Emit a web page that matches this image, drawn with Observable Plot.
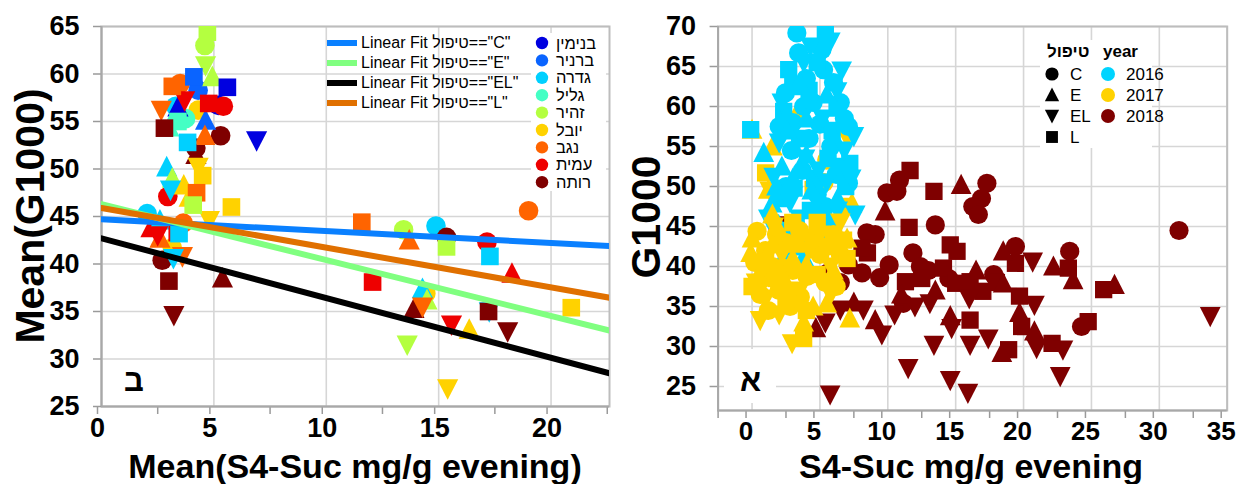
<!DOCTYPE html>
<html><head><meta charset="utf-8">
<script src="https://cdn.jsdelivr.net/npm/d3@7"></script>
<script src="https://cdn.jsdelivr.net/npm/@observablehq/plot@0.6"></script>
<style>
body{margin:0;background:#fff;font-family:"Liberation Sans",Arial,sans-serif;}
#wrap{position:relative;width:1236px;height:484px;overflow:hidden;background:#fff;}
.panel{position:absolute;top:0;}
.abs{position:absolute;white-space:nowrap;color:#000;}
.atitle{font-weight:bold;font-size:34px;line-height:34px;}
.vtitle{font-weight:bold;font-size:41px;line-height:41px;}
.vt{transform:translate(-50%,-50%) rotate(-90deg);}
.ht{transform:translateX(-50%);}
.plab{font-weight:bold;font-size:31px;line-height:31px;}
.lg{font-size:16px;line-height:16px;}
.lg3{font-size:16.5px;line-height:16.5px;}
.lg2{font-size:17px;line-height:17px;}
</style></head>
<body><div id="wrap"></div>
<script>
// ---------- categories ----------
const locations = ["בנימין","ברניר","גדרה","גליל","זהיר","יובל","נגב","עמית","רותה"];
const locColors = ["#0000e0","#0a64ff","#00d0ff","#44ffc4","#b4ff40","#ffd200","#ff6400","#ee0000","#7f0000"];
const [BN, BR, GD, GL, ZH, YV, NG, AM, RT] = locations;
const treatments = ["C","E","EL","L"];
const fitColors = ["#0a80ff","#80ff80","#000000","#e07000"];
const years = ["2016","2017","2018"];
const yearColors = ["#00d4ff","#ffd200","#7f0000"];

// ---------- left panel (means): [location, x, y] ----------
const meanC = [[ZH,4.6,63.0],[NG,3.5,59.0],[BR,4.3,58.3],[GD,3.3,56.6],[BN,5.2,56.7],[AM,5.42,56.6],[YV,4.3,56.2],[GL,3.74,55.3],[RT,5.3,53.5],[RT,4.2,52.2],[AM,2.95,47.1],[GD,2.03,45.3],[NG,3.64,44.3],[YV,3.15,41.7],[RT,2.7,40.4],[ZH,13.44,43.6],[GD,14.88,44.0],[RT,15.35,42.8],[AM,17.15,42.3],[NG,19.0,45.6],[YV,14.43,36.9]];
const meanE = [[ZH,4.93,59.7],[BN,3.4,56.5],[BR,4.63,55.1],[GL,3.0,54.4],[NG,4.6,53.5],[RT,4.2,51.5],[GD,2.9,50.2],[ZH,3.15,49.0],[YV,3.66,48.3],[YV,3.9,47.0],[AM,2.2,43.8],[GD,2.6,44.6],[NG,2.6,42.7],[RT,5.38,38.5],[NG,13.69,42.5],[GD,14.28,37.4],[ZH,14.48,36.2],[RT,13.9,35.3],[AM,18.26,39.0],[YV,16.36,33.1]];
const meanEL = [[ZH,4.63,60.9],[AM,3.7,57.2],[NG,2.66,56.2],[BN,6.9,53.0],[YV,4.3,50.2],[GD,3.07,47.8],[YV,4.8,44.6],[AM,2.5,43.0],[NG,3.6,40.8],[GD,3.2,40.6],[RT,3.22,34.6],[NG,14.28,35.5],[GD,17.25,35.0],[AM,15.57,33.6],[RT,18.07,32.9],[ZH,13.6,31.5],[YV,15.4,26.9]];
const meanL = [[ZH,4.71,64.4],[BR,4.11,59.7],[NG,3.15,58.7],[BN,5.6,58.6],[AM,4.77,56.9],[GL,3.4,55.0],[RT,2.8,54.3],[GD,3.83,52.8],[YV,4.5,49.3],[NG,4.23,47.5],[ZH,4.08,46.2],[YV,5.78,46.0],[AM,3.37,43.3],[GD,3.45,43.2],[RT,3.0,38.2],[NG,11.58,44.4],[ZH,15.35,41.8],[GD,17.28,40.8],[AM,12.06,38.1],[RT,17.22,35.0],[YV,20.9,35.4]];
// linear fits per treatment: y at x = fitX[0] and x = fitX[1]
const fitX = [0, 22.6];
const fitY0 = [44.7, 46.3, 42.7, 45.9];
const fitY1 = [41.9, 33.0, 28.5, 36.45];

// ---------- right panel (all samples): [treatment, x, y] ----------
const y2016 = [
 ["C",3.3,69.2],["C",3.43,66.7],["C",5.15,67.1],["C",5.27,64.6],["C",2.46,61.7],["C",7.1,57.5],["C",7.1,50.4],["C",5.4,47.5],["C",4.0,63.5],["C",3.0,58.0],["C",4.5,60.5],["C",5.8,55.0],["C",3.7,52.0],["C",6.2,51.5],["C",4.8,49.0],["C",2.9,54.5],["C",5.0,57.8],["C",6.5,60.5],
 ["C",2.0,57.5],["C",3.8,60.0],["C",6.0,63.0],["C",2.5,50.0],["C",4.2,56.0],["C",6.8,58.5],["C",3.2,45.5],["C",5.6,44.5],
 ["L",5.4,69.0],["L",2.7,64.6],["L",2.33,59.4],["L",6.26,59.8],["L",-0.1,57.1],["L",7.2,52.9],["L",6.9,50.0],["L",4.2,62.0],["L",3.5,56.0],["L",5.6,53.5],["L",4.3,47.0],["L",3.1,49.8],["L",6.0,45.5],["L",2.5,44.5],
 ["L",3.0,62.5],["L",4.8,65.5],["L",5.9,57.0],["L",2.0,48.5],["L",4.6,51.0],["L",6.5,52.5],["L",3.6,43.5],
 ["E",0.86,54.2],["E",1.48,47.9],["E",1.96,45.2],["E",2.33,41.2],["E",3.8,41.2],["E",3.1,42.5],["E",4.0,58.5],["E",5.5,61.5],["E",3.0,51.0],["E",6.3,48.5],["E",2.2,52.5],["E",4.6,44.5],["E",4.0,54.0],
 ["E",3.5,63.0],["E",2.6,57.0],["E",6.1,56.0],["E",4.4,49.5],["E",5.3,45.8],["E",1.8,50.0],
 ["EL",5.76,68.1],["EL",6.26,61.9],["EL",7.5,56.3],["EL",1.6,51.2],["EL",7.6,46.5],["EL",6.3,47.0],["EL",3.8,65.5],["EL",2.8,48.0],["EL",4.9,52.0],["EL",5.2,58.5],["EL",3.5,46.0],["EL",6.8,54.5],["EL",2.0,55.5],["EL",4.4,42.8],
 ["EL",4.3,67.5],["EL",2.2,60.5],["EL",6.6,64.5],["EL",3.9,53.5],["EL",5.5,50.5],["EL",1.2,46.0],["EL",7.3,51.0]];
const y2017 = [
 ["E",0.0,57.1],["E",1.5,55.0],["L",1.0,51.7],["E",1.2,49.6],["E",7.36,47.9],["EL",7.0,56.1],["C",5.5,53.3],["L",4.5,49.6],["E",3.4,59.5],["C",5.3,50.5],["E",1.5,46.5],["L",6.8,47.5],["EL",1.3,49.5],
 ["C",0.37,44.4],["C",0.6,36.5],["C",3.56,36.2],["C",4.05,38.75],["C",1.0,42.0],["C",1.5,40.0],["C",2.5,43.0],["C",0.8,38.5],["C",2.0,37.0],["C",3.0,39.5],["C",5.0,41.5],["C",4.5,43.5],["C",6.0,44.0],["C",1.2,34.5],["C",2.8,35.0],["C",6.5,41.5],["C",0.2,40.5],["C",3.5,44.5],["C",5.4,38.0],
 ["C",1.8,44.0],["C",2.3,39.8],["C",6.2,37.5],
 ["E",-0.1,41.7],["E",4.5,35.0],["E",5.5,35.4],["E",7.2,33.5],["E",0.5,39.0],["E",2.0,44.5],["E",3.0,41.0],["E",6.0,39.5],["E",1.5,42.8],["E",4.0,40.2],["E",2.5,38.0],["E",7.0,43.5],["E",0.0,43.5],["E",3.8,33.0],
 ["EL",0.6,33.3],["EL",2.95,30.4],["EL",1.0,36.0],["EL",2.2,41.5],["EL",3.5,37.0],["EL",5.0,44.0],["EL",6.5,45.5],["EL",0.3,38.0],["EL",4.2,42.0],["EL",2.0,34.0],["EL",1.6,45.0],["EL",5.8,36.5],["EL",5.8,40.0],
 ["L",3.8,31.0],["L",6.74,43.3],["L",1.0,40.5],["L",2.5,36.0],["L",3.2,42.8],["L",4.8,39.0],["L",5.6,42.5],["L",0.0,37.5],["L",1.8,38.5],["L",7.0,41.0],["L",4.0,34.5],["L",3.0,45.5],["L",4.8,45.5]];
const y2018 = [
 ["C",10.86,50.8],["C",9.93,49.2],["C",10.67,49.4],["C",17.3,50.4],["C",16.9,48.5],["C",16.26,47.5],["C",16.67,46.5],["C",13.5,45.2],["C",9.07,44.0],["C",11.85,41.7],["C",19.4,42.5],["C",23.4,41.9],["C",31.45,44.5],["C",10.1,40.2],["C",8.1,39.2],["C",9.4,38.6],["C",12.4,40.0],["C",11.15,35.4],["C",24.27,32.5],["C",5.6,39.2],["C",7.1,40.2],["C",8.46,44.2],["C",13.0,39.5],["C",14.5,38.5],["C",17.8,39.0],["C",6.5,38.0],
 ["L",11.64,52.0],["L",13.4,49.4],["L",11.57,44.9],["L",8.5,41.7],["L",14.6,42.7],["L",15.1,41.9],["L",19.4,40.4],["L",23.3,39.8],["L",25.9,37.1],["L",11.3,38.1],["L",14.1,39.8],["L",15.0,37.9],["L",16.06,38.1],["L",17.0,36.9],["L",19.7,36.3],["L",16.06,33.3],["L",19.86,32.5],["L",22.1,30.4],["L",18.9,29.6],["L",24.76,33.1],["L",1.85,45.2],["L",8.1,42.3],["L",12.5,38.5],["L",18.0,38.0],
 ["E",9.8,46.9],["E",15.4,50.2],["E",18.5,41.9],["E",22.2,40.0],["E",23.65,38.3],["E",26.7,37.7],["E",18.5,37.9],["E",9.07,33.3],["E",14.6,33.8],["E",19.7,34.2],["E",20.8,31.9],["E",18.4,29.2],["E",4.7,32.3],["E",13.5,37.0],["E",16.5,39.5],["E",11.0,36.5],["E",7.5,35.5],
 ["EL",20.67,40.6],["EL",33.75,33.8],["EL",20.8,35.2],["EL",13.1,35.4],["EL",9.56,31.5],["EL",14.7,32.3],["EL",13.4,30.2],["EL",16.06,30.2],["EL",17.4,31.0],["EL",20.96,29.8],["EL",22.9,29.6],["EL",22.7,26.3],["EL",11.5,27.3],["EL",14.6,25.8],["EL",15.9,24.2],["EL",5.75,24.0],["EL",5.4,33.0],["EL",6.5,34.6],["EL",8.2,34.6],["EL",10.5,34.0],["EL",12.0,35.0],["EL",16.0,36.0]];

// tick values
const leftXTicks = [0,5,10,15,20];
const leftXMinor = [2.5,7.5,12.5,17.5,22.5];
const leftYTicks = [25,30,35,40,45,50,55,60,65];
const rightXTicks = [0,5,10,15,20,25,30,35];
const rightXMinor = [-2.5,2.5,7.5,12.5,17.5,22.5,27.5,32.5];
const rightYTicks = [25,30,35,40,45,50,55,60,65,70];

// ---------- symbols ----------
function makeSym(kind){
  return {draw(ctx, size){
    const r = Math.sqrt(size/Math.PI);
    if(kind==="C"){ctx.moveTo(r,0);ctx.arc(0,0,r,0,2*Math.PI);}
    else if(kind==="L"){const h=r*0.9;ctx.moveTo(-h,-h);ctx.lineTo(h,-h);ctx.lineTo(h,h);ctx.lineTo(-h,h);ctx.closePath();}
    else if(kind==="E"){const w=r*1.08;ctx.moveTo(0,-r*1.15);ctx.lineTo(w,r*0.95);ctx.lineTo(-w,r*0.95);ctx.closePath();}
    else {const w=r*1.08;ctx.moveTo(0,r*1.15);ctx.lineTo(w,-r*0.95);ctx.lineTo(-w,-r*0.95);ctx.closePath();}
  }};
}
const symbols = treatments.map(makeSym);

const gridStyle = {stroke:"#d6d6d6", strokeOpacity:1, strokeWidth:1.6};
const axisFont = {fontSize:27, fontWeight:"bold", fill:"#000", stroke:"#9a9a9a", strokeWidth:1.5};
const font = "'Liberation Sans', Arial, sans-serif";
const wrap = document.getElementById("wrap");

// ---------- LEFT PLOT ----------
const leftRows = [
  ...meanC.map(d=>({loc:d[0],x:d[1],y:d[2],t:"C"})),
  ...meanE.map(d=>({loc:d[0],x:d[1],y:d[2],t:"E"})),
  ...meanEL.map(d=>({loc:d[0],x:d[1],y:d[2],t:"EL"})),
  ...meanL.map(d=>({loc:d[0],x:d[1],y:d[2],t:"L"}))
];
const fitRows = treatments.map((t,i)=>[{x:fitX[0],y:fitY0[i]},{x:fitX[1],y:fitY1[i]}]);

const left = Plot.plot({
  width:620, height:484,
  marginLeft:101, marginRight:11, marginTop:26, marginBottom:78,
  style:{fontFamily:font, overflow:"visible", background:"transparent"},
  x:{domain:[0,22.6]},
  y:{domain:[25,65]},
  color:{domain:locations, range:locColors},
  symbol:{domain:treatments, range:symbols},
  marks:[
    Plot.gridX(leftXTicks, gridStyle),
    Plot.gridY(leftYTicks, gridStyle),
    Plot.frame({stroke:"#bdbdbd", strokeWidth:2}),
    Plot.axisX(leftXTicks, {...axisFont, tickSize:8, tickPadding:3, dx:-4, label:null}),
    Plot.axisX(leftXMinor, {stroke:"#9a9a9a", strokeWidth:1.5, tickSize:8, text:null, label:null}),
    Plot.axisY(leftYTicks, {...axisFont, tickSize:8, tickPadding:14, label:null}),
    Plot.ruleX([0], {stroke:"#a8a8a8", strokeWidth:2}),
    Plot.ruleY([25], {stroke:"#a8a8a8", strokeWidth:2}),
    Plot.dot(leftRows, {x:"x", y:"y", fill:"loc", symbol:"t", r:9.8, clip:true}),
    ...fitRows.map((rows,i)=>Plot.line(rows, {x:"x", y:"y", stroke:fitColors[i], strokeWidth:6, clip:true}))
  ]
});
left.classList.add("panel"); left.style.left="0px";
wrap.appendChild(left);

// ---------- RIGHT PLOT ----------
const toRows = (arr, yr) => arr.map(d=>({t:d[0], x:d[1], y:d[2], yr}));
const r2016 = toRows(y2016,"2016"), r2017 = toRows(y2017,"2017"), r2018 = toRows(y2018,"2018");
const rightRows = [...r2018, ...r2017.filter(d=>d.y>=47), ...r2016, ...r2017.filter(d=>d.y<47)];

const right = Plot.plot({
  width:616, height:484,
  marginLeft:97.6, marginRight:9.3, marginTop:26, marginBottom:74,
  style:{fontFamily:font, overflow:"visible", background:"transparent"},
  x:{domain:[-2.5,35]},
  y:{domain:[22,70]},
  color:{domain:years, range:yearColors},
  symbol:{domain:treatments, range:symbols},
  marks:[
    Plot.gridX(rightXTicks, gridStyle),
    Plot.gridY(rightYTicks, gridStyle),
    Plot.frame({stroke:"#bdbdbd", strokeWidth:2}),
    Plot.axisX(rightXTicks, {...axisFont, fontSize:26, tickSize:8, tickPadding:3, dx:-6, label:null}),
    Plot.axisX(rightXMinor, {stroke:"#9a9a9a", strokeWidth:1.5, tickSize:8, text:null, label:null}),
    Plot.axisY(rightYTicks, {...axisFont, tickSize:8, tickPadding:14, label:null}),
    Plot.ruleX([-2.5], {stroke:"#a8a8a8", strokeWidth:2}),
    Plot.ruleY([22], {stroke:"#a8a8a8", strokeWidth:2}),
    Plot.dot(rightRows, {x:"x", y:"y", fill:"yr", symbol:"t", r:9.6, clip:true})
  ]
});
right.classList.add("panel"); right.style.left="620px";
wrap.appendChild(right);

// ---------- HTML overlays: titles, labels, legends ----------
function addDiv(cls, text, css){
  const d=document.createElement("div"); d.className="abs "+cls; d.textContent=text;
  Object.assign(d.style, css); wrap.appendChild(d); return d;
}
addDiv("vtitle vt","Mean(G1000)",{left:"30px",top:"216px"});
addDiv("atitle ht","Mean(S4-Suc mg/g evening)",{left:"355px",top:"449px"});
addDiv("vtitle vt","G1000",{left:"646px",top:"217px"});
addDiv("atitle ht","S4-Suc mg/g evening",{left:"971px",top:"449px"});
addDiv("plab","ב",{left:"124px",top:"365px"});
addDiv("", "", {left:"724px",top:"349px",width:"52px",height:"54px",background:"#fff"});
addDiv("plab","א",{left:"740px",top:"365px"});

// legends
const NS="http://www.w3.org/2000/svg";
const lsvg=document.createElementNS(NS,"svg");
lsvg.setAttribute("width","1236"); lsvg.setAttribute("height","484");
lsvg.style.position="absolute"; lsvg.style.left="0"; lsvg.style.top="0"; lsvg.style.pointerEvents="none";
wrap.appendChild(lsvg);
function svgEl(tag, attrs){const e=document.createElementNS(NS,tag); for(const k in attrs) e.setAttribute(k,attrs[k]); lsvg.appendChild(e); return e;}
const fitRowY = [43,63,83,103];
treatments.forEach((t,i)=>{
  svgEl("line",{x1:327,x2:357,y1:fitRowY[i],y2:fitRowY[i],stroke:fitColors[i],"stroke-width":6});
  addDiv("lg",`Linear Fit טיפול=="${t}"`,{left:"361px",top:(fitRowY[i]-8)+"px"});
});
svgEl("rect",{x:531,y:33,width:75,height:158,fill:"#fff"});
locations.forEach((l,i)=>{
  const yy = 43 + i*17.4;
  svgEl("circle",{cx:542,cy:yy,r:6.2,fill:locColors[i]});
  addDiv("lg3",l,{left:"556px",top:(yy-8.5)+"px"});
});
svgEl("rect",{x:1040,y:40,width:112,height:108,fill:"#fff"});
addDiv("lg2","טיפול",{left:"1047px",top:"43px",fontWeight:"bold"});
addDiv("lg2","year",{left:"1103px",top:"43px",fontWeight:"bold"});
const legRowY=[74,95,116,137];
treatments.forEach((t,i)=>{
  const p=d3.path(); symbols[i].draw(p, Math.PI*6.6*6.6);
  svgEl("path",{d:p.toString(),transform:`translate(1052,${legRowY[i]})`,fill:"#000"});
  addDiv("lg2",t,{left:"1070px",top:(legRowY[i]-8)+"px"});
});
years.forEach((y,i)=>{
  svgEl("circle",{cx:1108,cy:legRowY[i],r:7,fill:yearColors[i]});
  addDiv("lg2",y,{left:"1126px",top:(legRowY[i]-8)+"px"});
});
</script></body></html>
